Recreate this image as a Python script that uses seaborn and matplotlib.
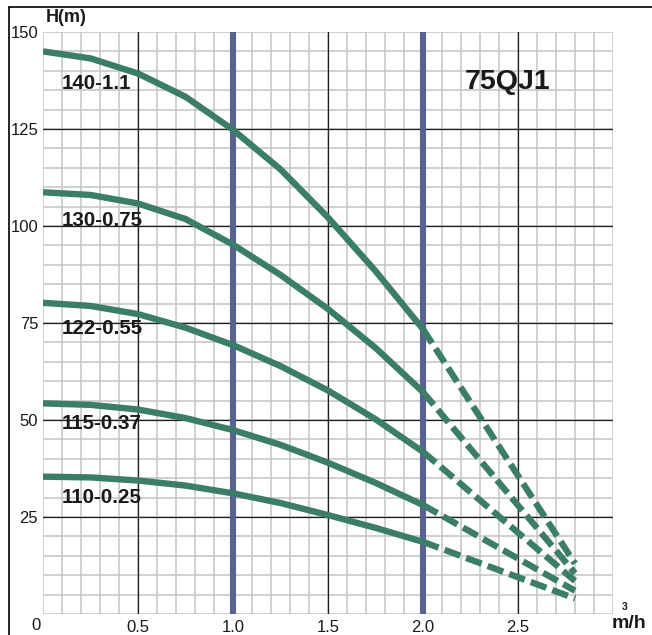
import numpy as np
import pandas as pd
import matplotlib
matplotlib.use("Agg")
import matplotlib.pyplot as plt
import seaborn as sns
from matplotlib.lines import Line2D

# Pump performance data (flow in m3/h, head in m)
flow = [0.0, 0.25, 0.5, 0.75, 1.0, 1.25, 1.5, 1.75, 2.0]
head_140_1_1 = [145.0, 143.2, 139.3, 133.3, 124.8, 114.6, 102.2, 88.4, 73.4]
head_130_0_75 = [108.7, 108.0, 105.8, 101.8, 95.2, 87.4, 78.6, 68.6, 57.2]
head_122_0_55 = [80.2, 79.4, 77.3, 73.8, 69.3, 63.9, 57.6, 50.2, 41.8]
head_115_0_37 = [54.3, 53.9, 52.7, 50.5, 47.4, 43.6, 39.0, 33.8, 28.1]
head_110_0_25 = [35.4, 35.2, 34.4, 33.1, 31.1, 28.6, 25.5, 22.2, 18.6]
models = ["140-1.1", "130-0.75", "122-0.55", "115-0.37", "110-0.25"]

# Extrapolated run-out points (dashed part of each curve)
end_flow = 2.8
end_head = [13.0, 10.5, 8.5, 6.0, 4.0]

# Axis ticks and markers
x_ticks = [0.5, 1.0, 1.5, 2.0, 2.5]
x_tick_labels = ["0.5", "1.0", "1.5", "2.0", "2.5"]
y_ticks = [25, 50, 75, 100, 125, 150]
y_tick_labels = ["25", "50", "75", "100", "125", "150"]
range_limits = [1.0, 2.0]
series_name = "75QJ1"

heads = [head_140_1_1, head_130_0_75, head_122_0_55, head_115_0_37, head_110_0_25]
curve_df = pd.DataFrame(
    [(m, q, h) for m, hs in zip(models, heads) for q, h in zip(flow, hs)],
    columns=["model", "flow", "head"],
)
dash_df = pd.DataFrame(
    [(m, flow[-1], hs[-1]) for m, hs in zip(models, heads)]
    + [(m, end_flow, e) for m, e in zip(models, end_head)],
    columns=["model", "flow", "head"],
)

sns.set_style("white")
plt.rcParams["font.family"] = ["Liberation Sans", "DejaVu Sans"]

W, H = 652, 635
fig = plt.figure(figsize=(W / 100, H / 100), dpi=100)
fig.patch.set_facecolor("white")
ax = fig.add_axes([43 / W, 21 / H, 570 / W, 582 / H])

GREEN = "#3b7d68"
BLUE = "#596292"
MINOR = "#c4c4c4"
MAJOR = "#1e1e1e"
TEXT = "#1a1a1a"

ax.set_xlim(0, 3.0)
ax.set_ylim(0, 150)
for s in ax.spines.values():
    s.set_visible(False)

# fine grid
for xv in np.arange(0, 3.001, 0.1):
    ax.axvline(xv, color=MINOR, lw=1.1, zorder=1)
for yv in np.arange(0, 150.1, 5):
    ax.axhline(yv, color=MINOR, lw=1.1, zorder=1)
# heavier grid
for xv in [0.5, 1.5, 2.5]:
    ax.axvline(xv, color=MAJOR, lw=0.9, zorder=2)
for yv in [25, 50, 75, 100, 125]:
    ax.axhline(yv, color=MAJOR, lw=0.9, zorder=2)
for xv in range_limits:
    ax.axvline(xv, color=BLUE, lw=4.4, zorder=3)

sns.lineplot(data=curve_df, x="flow", y="head", units="model", estimator=None,
             color=GREEN, lw=4.6, solid_joinstyle="round", solid_capstyle="butt",
             ax=ax, zorder=4, legend=False)
sns.lineplot(data=dash_df, x="flow", y="head", units="model", estimator=None,
             color=GREEN, lw=4.6, linestyle=(0, (2.6, 1.0)), dash_capstyle="butt",
             ax=ax, zorder=4, legend=False)

ax.set_xticks(x_ticks)
ax.set_xticklabels(x_tick_labels)
ax.set_yticks(y_ticks)
ax.set_yticklabels(y_tick_labels)
ax.tick_params(axis="x", length=0, pad=4, labelsize=12, labelcolor=TEXT)
ax.tick_params(axis="y", length=3, width=0.9, color=MAJOR, pad=0.5,
               labelsize=12, labelcolor=TEXT)
ax.set_xlabel("")
ax.set_ylabel("")

label_y = [136.8, 101.5, 73.5, 49.2, 30.0]
for name, ly in zip(models, label_y):
    ax.text(0.1, ly, name, fontsize=14.8, fontweight="bold", color=TEXT,
            ha="left", va="center", zorder=5)
ax.text(2.22, 137, series_name, fontsize=20.5, fontweight="bold", color=TEXT,
        ha="left", va="center", zorder=5)

fig.text(36 / W, 1 - 625 / H, "0", fontsize=12, color=TEXT, ha="center", va="center")
fig.text(66 / W, 1 - 17.5 / H, "H(m)", fontsize=13, fontweight="bold",
         color=TEXT, ha="center", va="center")
fig.text(629 / W, 1 - 623 / H, "m/h", fontsize=14, fontweight="bold",
         color=TEXT, ha="center", va="center")
fig.text(625 / W, 1 - 607 / H, "3", fontsize=7.5, fontweight="bold",
         color=TEXT, ha="center", va="center")

# outer frame (top and left edges)
fig.add_artist(Line2D([9 / W, 1], [1 - 7 / H, 1 - 7 / H], color="black", lw=1.2,
                      transform=fig.transFigure))
fig.add_artist(Line2D([9 / W, 9 / W], [0, 1 - 7 / H], color="black", lw=1.2,
                      transform=fig.transFigure))

fig.savefig("out.png", dpi=100, facecolor="white")
